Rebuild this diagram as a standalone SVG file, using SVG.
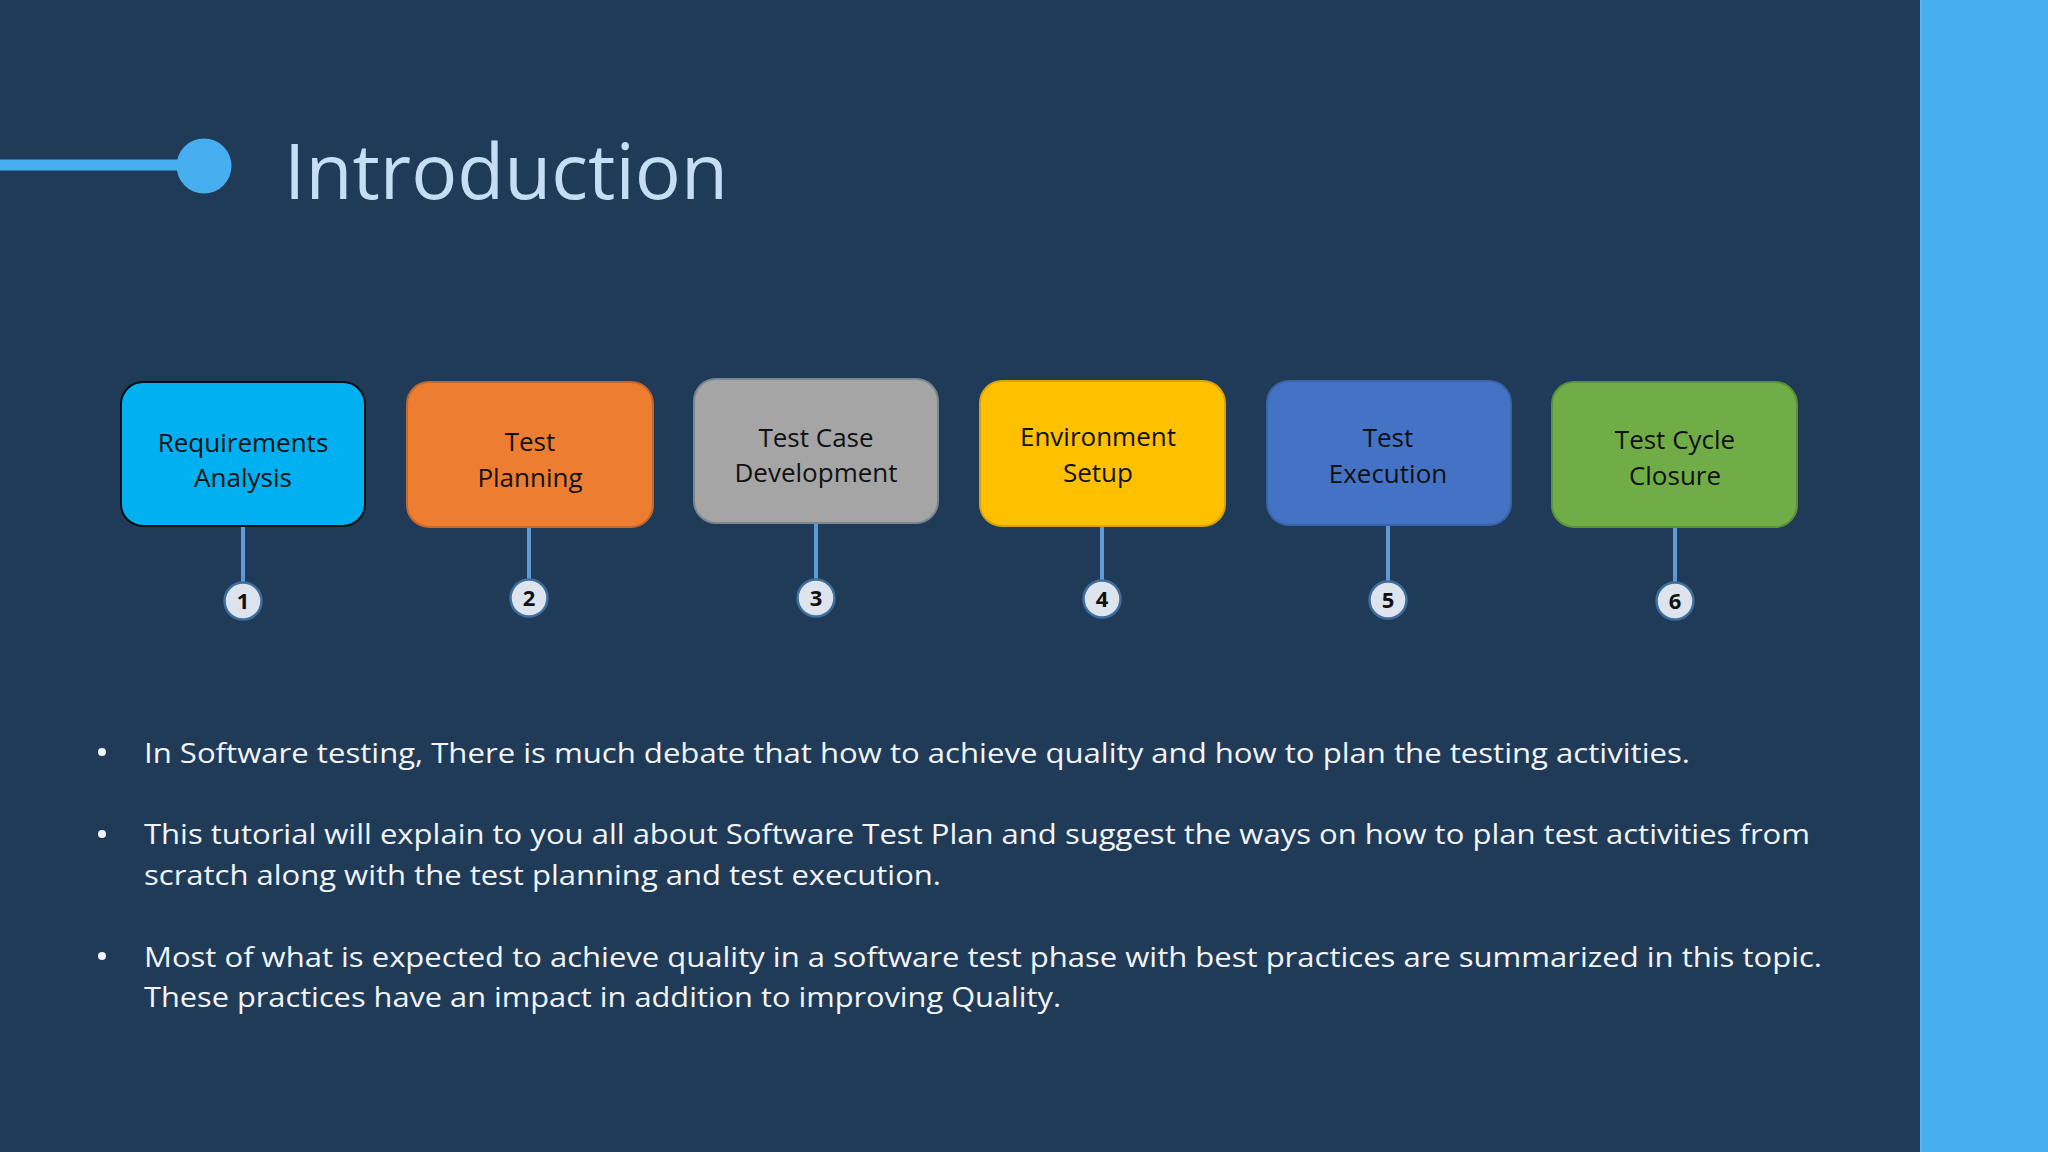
<svg xmlns="http://www.w3.org/2000/svg" width="2048" height="1152" viewBox="0 0 2048 1152">
  <style>
    .box { stroke-width: 2; }
    .lbl { font-family: "Open Sans", "Liberation Sans", sans-serif; font-size: 26px; fill: #111111; text-anchor: middle; }
    .conn { stroke: #5E9BD6; stroke-width: 4; fill: none; }
    .num { fill: #DEE4EE; stroke: #3F6E9E; stroke-width: 2.5; }
    .numt { font-family: "Open Sans", "Liberation Sans", sans-serif; font-size: 22px; font-weight: 700; fill: #111111; text-anchor: middle; }
    .body { font-family: "Open Sans", "Liberation Sans", sans-serif; font-size: 28px; fill: #F2F4F7; }
    .dot { fill: #F2F4F7; }
  </style>
  <rect x="0" y="0" width="2048" height="1152" fill="#1F3B58"/>
  <rect x="1921" y="0" width="127" height="1152" fill="#47AFF0"/>
  <line x1="1921" y1="0" x2="1921" y2="1152" stroke="#5BB6EE" stroke-width="2"/>

  <g id="title">
    <line x1="0" y1="165" x2="200" y2="165" stroke="#47AFF0" stroke-width="11"/>
    <circle cx="204" cy="166" r="27.5" fill="#47AFF0"/>
    <text x="284" y="199" font-family="Open Sans, Liberation Sans, sans-serif" font-size="77" font-weight="400" fill="#C6DEF5" textLength="444" lengthAdjust="spacingAndGlyphs">Introduction</text>
  </g>

  <g id="connectors">
    <line class="conn" x1="243" y1="526" x2="243" y2="583"/>
    <line class="conn" x1="529" y1="527" x2="529" y2="580"/>
    <line class="conn" x1="816" y1="523" x2="816" y2="580"/>
    <line class="conn" x1="1102" y1="526" x2="1102" y2="581"/>
    <line class="conn" x1="1388" y1="525" x2="1388" y2="582"/>
    <line class="conn" x1="1675" y1="527" x2="1675" y2="583"/>
  </g>

  <g id="node1">
    <rect class="box" x="121" y="382" width="244" height="144" rx="22" fill="#00B0F0" stroke="#0B0F14"/>
    <text class="lbl" x="243" y="452">Requirements</text>
    <text class="lbl" x="243" y="487">Analysis</text>
  </g>
  <g id="node2">
    <rect class="box" x="407" y="382" width="246" height="145" rx="22" fill="#ED7D31" stroke="#C4672B"/>
    <text class="lbl" x="530" y="451">Test</text>
    <text class="lbl" x="530" y="487">Planning</text>
  </g>
  <g id="node3">
    <rect class="box" x="694" y="379" width="244" height="144" rx="22" fill="#A5A5A5" stroke="#7D8791"/>
    <text class="lbl" x="816" y="447">Test Case</text>
    <text class="lbl" x="816" y="482">Development</text>
  </g>
  <g id="node4">
    <rect class="box" x="980" y="381" width="245" height="145" rx="22" fill="#FFC000" stroke="#D8A30B"/>
    <text class="lbl" x="1098" y="446">Environment</text>
    <text class="lbl" x="1098" y="482">Setup</text>
  </g>
  <g id="node5">
    <rect class="box" x="1267" y="381" width="244" height="144" rx="22" fill="#4472C4" stroke="#3A63A9"/>
    <text class="lbl" x="1388" y="447">Test</text>
    <text class="lbl" x="1388" y="483">Execution</text>
  </g>
  <g id="node6">
    <rect class="box" x="1552" y="382" width="245" height="145" rx="22" fill="#70AD47" stroke="#5B9239"/>
    <text class="lbl" x="1675" y="449">Test Cycle</text>
    <text class="lbl" x="1675" y="485">Closure</text>
  </g>

  <g id="badge1"><circle class="num" cx="243" cy="601" r="18.5"/><text class="numt" x="243" y="609">1</text></g>
  <g id="badge2"><circle class="num" cx="529" cy="598" r="18.5"/><text class="numt" x="529" y="606">2</text></g>
  <g id="badge3"><circle class="num" cx="816" cy="598" r="18.5"/><text class="numt" x="816" y="606">3</text></g>
  <g id="badge4"><circle class="num" cx="1102" cy="599" r="18.5"/><text class="numt" x="1102" y="607">4</text></g>
  <g id="badge5"><circle class="num" cx="1388" cy="600" r="18.5"/><text class="numt" x="1388" y="608">5</text></g>
  <g id="badge6"><circle class="num" cx="1675" cy="601" r="18.5"/><text class="numt" x="1675" y="609">6</text></g>

  <g id="bullets">
    <circle class="dot" cx="102" cy="752" r="4"/>
    <circle class="dot" cx="102" cy="834" r="4"/>
    <circle class="dot" cx="102" cy="956" r="4"/>
    <text class="body" x="144" y="763" textLength="1546" lengthAdjust="spacingAndGlyphs">In Software testing, There is much debate that how to achieve quality and how to plan the testing activities.</text>
    <text class="body" x="144" y="844" textLength="1666" lengthAdjust="spacingAndGlyphs">This tutorial will explain to you all about Software Test Plan and suggest the ways on how to plan test activities from</text>
    <text class="body" x="144" y="885" textLength="797" lengthAdjust="spacingAndGlyphs">scratch along with the test planning and test execution.</text>
    <text class="body" x="144" y="967" textLength="1678" lengthAdjust="spacingAndGlyphs">Most of what is expected to achieve quality in a software test phase with best practices are summarized in this topic.</text>
    <text class="body" x="144" y="1007" textLength="917" lengthAdjust="spacingAndGlyphs">These practices have an impact in addition to improving Quality.</text>
  </g>
</svg>
